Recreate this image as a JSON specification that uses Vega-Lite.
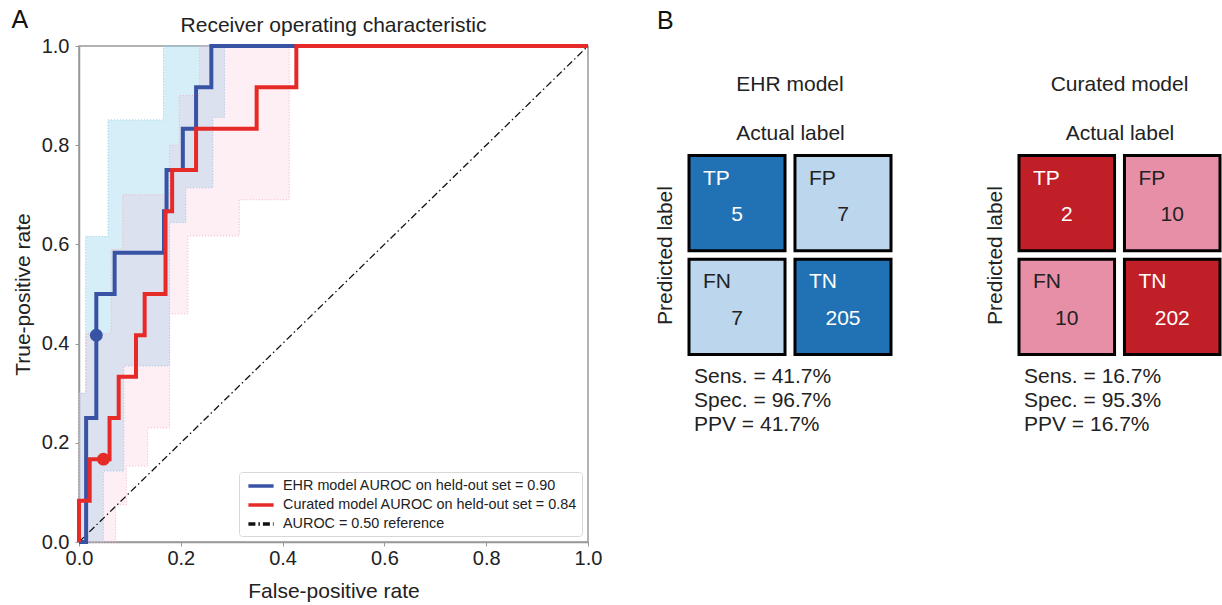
{
  "$schema": "https://vega.github.io/schema/vega-lite/v6.json",
  "padding": {"left": 11, "top": 8, "right": 0, "bottom": 0},
  "config": {
    "font": "Liberation Sans",
    "view": {"stroke": "#999", "strokeWidth": 1.5},
    "title": {"fontSize": 21, "fontWeight": "normal", "color": "#222", "font": "Liberation Sans"},
    "axis": {"labelFont": "Liberation Sans", "titleFont": "Liberation Sans", "labelColor": "#222", "titleColor": "#222", "titleFontWeight": "normal", "grid": false},
    "text": {"font": "Liberation Sans"},
    "legend": {"labelFont": "Liberation Sans"}
  },
  "datasets": {
    "roc": [
      {"s": "EHR model AUROC on held-out set = 0.90", "i": 1, "fpr": 0, "tpr": 0},
      {"s": "EHR model AUROC on held-out set = 0.90", "i": 2, "fpr": 0.014, "tpr": 0},
      {"s": "EHR model AUROC on held-out set = 0.90", "i": 3, "fpr": 0.014, "tpr": 0.25},
      {"s": "EHR model AUROC on held-out set = 0.90", "i": 4, "fpr": 0.034, "tpr": 0.25},
      {"s": "EHR model AUROC on held-out set = 0.90", "i": 5, "fpr": 0.034, "tpr": 0.5},
      {"s": "EHR model AUROC on held-out set = 0.90", "i": 6, "fpr": 0.07, "tpr": 0.5},
      {"s": "EHR model AUROC on held-out set = 0.90", "i": 7, "fpr": 0.07, "tpr": 0.583},
      {"s": "EHR model AUROC on held-out set = 0.90", "i": 8, "fpr": 0.167, "tpr": 0.583},
      {"s": "EHR model AUROC on held-out set = 0.90", "i": 9, "fpr": 0.167, "tpr": 0.667},
      {"s": "EHR model AUROC on held-out set = 0.90", "i": 10, "fpr": 0.172, "tpr": 0.667},
      {"s": "EHR model AUROC on held-out set = 0.90", "i": 11, "fpr": 0.172, "tpr": 0.75},
      {"s": "EHR model AUROC on held-out set = 0.90", "i": 12, "fpr": 0.204, "tpr": 0.75},
      {"s": "EHR model AUROC on held-out set = 0.90", "i": 13, "fpr": 0.204, "tpr": 0.833},
      {"s": "EHR model AUROC on held-out set = 0.90", "i": 14, "fpr": 0.23, "tpr": 0.833},
      {"s": "EHR model AUROC on held-out set = 0.90", "i": 15, "fpr": 0.23, "tpr": 0.917},
      {"s": "EHR model AUROC on held-out set = 0.90", "i": 16, "fpr": 0.26, "tpr": 0.917},
      {"s": "EHR model AUROC on held-out set = 0.90", "i": 17, "fpr": 0.26, "tpr": 1},
      {"s": "EHR model AUROC on held-out set = 0.90", "i": 18, "fpr": 1, "tpr": 1},
      {"s": "Curated model AUROC on held-out set = 0.84", "i": 1, "fpr": 0, "tpr": 0},
      {"s": "Curated model AUROC on held-out set = 0.84", "i": 2, "fpr": 0, "tpr": 0.083},
      {"s": "Curated model AUROC on held-out set = 0.84", "i": 3, "fpr": 0.021, "tpr": 0.083},
      {"s": "Curated model AUROC on held-out set = 0.84", "i": 4, "fpr": 0.021, "tpr": 0.167},
      {"s": "Curated model AUROC on held-out set = 0.84", "i": 5, "fpr": 0.06, "tpr": 0.167},
      {"s": "Curated model AUROC on held-out set = 0.84", "i": 6, "fpr": 0.06, "tpr": 0.25},
      {"s": "Curated model AUROC on held-out set = 0.84", "i": 7, "fpr": 0.078, "tpr": 0.25},
      {"s": "Curated model AUROC on held-out set = 0.84", "i": 8, "fpr": 0.078, "tpr": 0.333},
      {"s": "Curated model AUROC on held-out set = 0.84", "i": 9, "fpr": 0.112, "tpr": 0.333},
      {"s": "Curated model AUROC on held-out set = 0.84", "i": 10, "fpr": 0.112, "tpr": 0.417},
      {"s": "Curated model AUROC on held-out set = 0.84", "i": 11, "fpr": 0.129, "tpr": 0.417},
      {"s": "Curated model AUROC on held-out set = 0.84", "i": 12, "fpr": 0.129, "tpr": 0.5},
      {"s": "Curated model AUROC on held-out set = 0.84", "i": 13, "fpr": 0.17, "tpr": 0.5},
      {"s": "Curated model AUROC on held-out set = 0.84", "i": 14, "fpr": 0.17, "tpr": 0.667},
      {"s": "Curated model AUROC on held-out set = 0.84", "i": 15, "fpr": 0.183, "tpr": 0.667},
      {"s": "Curated model AUROC on held-out set = 0.84", "i": 16, "fpr": 0.183, "tpr": 0.75},
      {"s": "Curated model AUROC on held-out set = 0.84", "i": 17, "fpr": 0.23, "tpr": 0.75},
      {"s": "Curated model AUROC on held-out set = 0.84", "i": 18, "fpr": 0.23, "tpr": 0.833},
      {"s": "Curated model AUROC on held-out set = 0.84", "i": 19, "fpr": 0.349, "tpr": 0.833},
      {"s": "Curated model AUROC on held-out set = 0.84", "i": 20, "fpr": 0.349, "tpr": 0.917},
      {"s": "Curated model AUROC on held-out set = 0.84", "i": 21, "fpr": 0.427, "tpr": 0.917},
      {"s": "Curated model AUROC on held-out set = 0.84", "i": 22, "fpr": 0.427, "tpr": 1},
      {"s": "Curated model AUROC on held-out set = 0.84", "i": 23, "fpr": 1, "tpr": 1},
      {"s": "AUROC = 0.50 reference", "i": 1, "fpr": 0, "tpr": 0},
      {"s": "AUROC = 0.50 reference", "i": 2, "fpr": 1, "tpr": 1}
    ],
    "ops": [
      {"s": "EHR model AUROC on held-out set = 0.90", "fpr": 0.034, "tpr": 0.417},
      {"s": "Curated model AUROC on held-out set = 0.84", "fpr": 0.048, "tpr": 0.167}
    ],
    "bands": [
      {"m": "EHR", "fpr": 0, "tpr": 0, "hi": 0.3},
      {"m": "EHR", "fpr": 0.013, "tpr": 0, "hi": 0.616},
      {"m": "EHR", "fpr": 0.048, "tpr": 0.143, "hi": 0.616},
      {"m": "EHR", "fpr": 0.057, "tpr": 0.143, "hi": 0.851},
      {"m": "EHR", "fpr": 0.088, "tpr": 0.355, "hi": 0.851},
      {"m": "EHR", "fpr": 0.166, "tpr": 0.355, "hi": 1},
      {"m": "EHR", "fpr": 0.178, "tpr": 0.644, "hi": 1},
      {"m": "EHR", "fpr": 0.21, "tpr": 0.714, "hi": 1},
      {"m": "EHR", "fpr": 0.263, "tpr": 0.856, "hi": 1},
      {"m": "EHR", "fpr": 0.286, "tpr": 1, "hi": 1},
      {"m": "Curated", "fpr": 0, "tpr": 0, "hi": 0.3},
      {"m": "Curated", "fpr": 0.014, "tpr": 0, "hi": 0.42},
      {"m": "Curated", "fpr": 0.063, "tpr": 0, "hi": 0.59},
      {"m": "Curated", "fpr": 0.072, "tpr": 0.075, "hi": 0.59},
      {"m": "Curated", "fpr": 0.086, "tpr": 0.075, "hi": 0.7},
      {"m": "Curated", "fpr": 0.093, "tpr": 0.153, "hi": 0.7},
      {"m": "Curated", "fpr": 0.135, "tpr": 0.23, "hi": 0.7},
      {"m": "Curated", "fpr": 0.178, "tpr": 0.46, "hi": 0.8},
      {"m": "Curated", "fpr": 0.197, "tpr": 0.46, "hi": 0.9},
      {"m": "Curated", "fpr": 0.214, "tpr": 0.617, "hi": 0.9},
      {"m": "Curated", "fpr": 0.237, "tpr": 0.617, "hi": 1},
      {"m": "Curated", "fpr": 0.315, "tpr": 0.69, "hi": 1},
      {"m": "Curated", "fpr": 0.413, "tpr": 1, "hi": 1}
    ],
    "cm": [
      {"model": "EHR", "actual": "Positive", "predicted": "Positive", "label": "TP", "n": 5, "outcome": "correct"},
      {"model": "EHR", "actual": "Negative", "predicted": "Positive", "label": "FP", "n": 7, "outcome": "error"},
      {"model": "EHR", "actual": "Positive", "predicted": "Negative", "label": "FN", "n": 7, "outcome": "error"},
      {"model": "EHR", "actual": "Negative", "predicted": "Negative", "label": "TN", "n": 205, "outcome": "correct"},
      {"model": "Curated", "actual": "Positive", "predicted": "Positive", "label": "TP", "n": 2, "outcome": "correct"},
      {"model": "Curated", "actual": "Negative", "predicted": "Positive", "label": "FP", "n": 10, "outcome": "error"},
      {"model": "Curated", "actual": "Positive", "predicted": "Negative", "label": "FN", "n": 10, "outcome": "error"},
      {"model": "Curated", "actual": "Negative", "predicted": "Negative", "label": "TN", "n": 202, "outcome": "correct"}
    ],
    "stats": [
      {"model": "EHR", "line": 1, "text": "Sens. = 41.7%"},
      {"model": "EHR", "line": 2, "text": "Spec. = 96.7%"},
      {"model": "EHR", "line": 3, "text": "PPV = 41.7%"},
      {"model": "Curated", "line": 1, "text": "Sens. = 16.7%"},
      {"model": "Curated", "line": 2, "text": "Spec. = 95.3%"},
      {"model": "Curated", "line": 3, "text": "PPV = 16.7%"}
    ]
  },
  "hconcat": [
    {
      "title": {"text": "A", "anchor": "start", "fontSize": 25, "color": "#111", "offset": -19},
      "resolve": {"scale": {"color": "independent", "strokeDash": "independent"}},
      "vconcat": [
        {
          "width": 509,
          "height": 496,
          "title": {"text": "Receiver operating characteristic", "offset": 0},
          "layer": [
            {
              "data": {"name": "bands"},
              "transform": [{"filter": "datum.m === 'EHR'"}],
              "mark": {"type": "area", "interpolate": "step-after", "fill": "#87ceeb", "fillOpacity": 0.35, "stroke": "#8ecbea", "strokeDash": [1, 2], "strokeWidth": 1},
              "encoding": {
                "x": {"field": "fpr", "type": "quantitative", "scale": {"domain": [0, 1], "nice": false},
                  "axis": {"title": "False-positive rate", "values": [0, 0.2, 0.4, 0.6, 0.8, 1], "format": ".1f", "labelFlush": false, "labelFontSize": 20, "titleFontSize": 21, "tickSize": 4, "labelPadding": 2, "titlePadding": 12, "domainColor": "#999", "domainWidth": 1.5, "tickColor": "#999"}},
                "y": {"field": "tpr", "type": "quantitative", "scale": {"domain": [0, 1], "nice": false},
                  "axis": {"title": "True-positive rate", "values": [0, 0.2, 0.4, 0.6, 0.8, 1], "format": ".1f", "labelFlush": false, "labelFontSize": 20, "titleFontSize": 21, "tickSize": 4, "labelPadding": 6, "titlePadding": 8, "domainColor": "#999", "domainWidth": 1.5, "tickColor": "#999"}},
                "y2": {"field": "hi"}
              }
            },
            {
              "data": {"name": "bands"},
              "transform": [{"filter": "datum.m === 'Curated'"}],
              "mark": {"type": "area", "interpolate": "step-after", "fill": "#f7a8c0", "fillOpacity": 0.18, "stroke": "#f4b3c6", "strokeDash": [1, 2], "strokeWidth": 1},
              "encoding": {
                "x": {"field": "fpr", "type": "quantitative", "scale": {"domain": [0, 1], "nice": false}},
                "y": {"field": "tpr", "type": "quantitative", "scale": {"domain": [0, 1], "nice": false}},
                "y2": {"field": "hi"}
              }
            },
            {
              "data": {"name": "roc"},
              "transform": [{"filter": "datum.s === 'AUROC = 0.50 reference'"}],
              "mark": {"type": "line", "strokeWidth": 1.3},
              "encoding": {
                "x": {"field": "fpr", "type": "quantitative", "scale": {"domain": [0, 1], "nice": false}},
                "y": {"field": "tpr", "type": "quantitative", "scale": {"domain": [0, 1], "nice": false}},
                "order": {"field": "i", "type": "quantitative"},
                "color": {"field": "s", "type": "nominal",
                  "scale": {"domain": ["EHR model AUROC on held-out set = 0.90", "Curated model AUROC on held-out set = 0.84", "AUROC = 0.50 reference"], "range": ["#3953a4", "#e62a28", "#111111"]}},
                "strokeDash": {"field": "s", "type": "nominal",
                  "scale": {"domain": ["EHR model AUROC on held-out set = 0.90", "Curated model AUROC on held-out set = 0.84", "AUROC = 0.50 reference"], "range": [[1, 0], [1, 0], [7, 3, 1.5, 3]]}}
              }
            },
            {
              "data": {"name": "roc"},
              "transform": [{"filter": "datum.s !== 'AUROC = 0.50 reference'"}],
              "mark": {"type": "line", "strokeWidth": 4},
              "encoding": {
                "x": {"field": "fpr", "type": "quantitative", "scale": {"domain": [0, 1], "nice": false}},
                "y": {"field": "tpr", "type": "quantitative", "scale": {"domain": [0, 1], "nice": false}},
                "order": {"field": "i", "type": "quantitative"},
                "color": {"field": "s", "type": "nominal",
                  "scale": {"domain": ["EHR model AUROC on held-out set = 0.90", "Curated model AUROC on held-out set = 0.84", "AUROC = 0.50 reference"], "range": ["#3953a4", "#e62a28", "#111111"]},
                  "legend": {"title": null, "orient": "bottom-right", "offset": 6, "fillColor": "white", "strokeColor": "#d8d8d8", "cornerRadius": 3, "padding": 5, "labelFontSize": 14.4, "labelLimit": 0, "labelColor": "#222", "symbolType": "M-1.8,0H1.8", "symbolSize": 196, "symbolStrokeWidth": 3.5, "symbolOffset": 8, "rowPadding": 3, "labelOffset": 13}},
                "strokeDash": {"field": "s", "type": "nominal",
                  "scale": {"domain": ["EHR model AUROC on held-out set = 0.90", "Curated model AUROC on held-out set = 0.84", "AUROC = 0.50 reference"], "range": [[1, 0], [1, 0], [7, 3, 1.5, 3]]}}
              }
            },
            {
              "data": {"name": "ops"},
              "mark": {"type": "circle", "size": 165, "opacity": 1},
              "encoding": {
                "x": {"field": "fpr", "type": "quantitative", "scale": {"domain": [0, 1], "nice": false}},
                "y": {"field": "tpr", "type": "quantitative", "scale": {"domain": [0, 1], "nice": false}},
                "color": {"field": "s", "type": "nominal", "legend": null}
              }
            }
          ]
        }
      ]
    },
    {
      "title": {"text": "B", "anchor": "start", "fontSize": 25, "color": "#111", "offset": 12, "dx": 3},
      "spacing": 91,
      "resolve": {"scale": {"fill": "independent", "color": "independent", "x": "independent", "y": "independent"}},
      "hconcat": [
        {
          "bounds": "flush",
          "spacing": 10,
          "vconcat": [
            {
              "width": 202,
              "height": 308.5,
              "view": {"stroke": null},
              "title": {"text": "EHR model", "offset": -49},
              "data": {"name": "cm"},
              "transform": [{"filter": "datum.model === 'EHR'"}],
              "encoding": {
                "x": {"field": "actual", "type": "nominal", "sort": ["Positive", "Negative"], "scale": {"type": "band", "paddingInner": 0.094, "paddingOuter": 0},
                  "axis": {"orient": "top", "offset": -109.5, "title": "Actual label", "labels": false, "ticks": false, "domain": false, "titlePadding": 12, "titleFontSize": 21}},
                "y": {"field": "predicted", "type": "nominal", "sort": ["Positive", "Negative"], "scale": {"type": "band", "range": [109.5, 308.5], "paddingInner": 0.083, "paddingOuter": 0},
                  "axis": {"title": "Predicted label", "labels": false, "ticks": false, "domain": false, "titlePadding": 14, "titleFontSize": 21}}
              },
              "layer": [
                {
                  "mark": {"type": "rect", "stroke": "black", "strokeWidth": 3},
                  "encoding": {"fill": {"field": "outcome", "type": "nominal", "scale": {"domain": ["correct", "error"], "range": ["#2171b5", "#bcd6ee"]}, "legend": null}}
                },
                {
                  "mark": {"type": "text", "align": "left", "baseline": "middle", "dx": 14, "dy": 23, "fontSize": 21},
                  "encoding": {
                    "x": {"field": "actual", "type": "nominal", "sort": ["Positive", "Negative"], "bandPosition": 0},
                    "y": {"field": "predicted", "type": "nominal", "sort": ["Positive", "Negative"], "bandPosition": 0},
                    "text": {"field": "label"},
                    "color": {"field": "outcome", "type": "nominal", "scale": {"domain": ["correct", "error"], "range": ["#ffffff", "#222222"]}, "legend": null}
                  }
                },
                {
                  "mark": {"type": "text", "align": "center", "baseline": "middle", "dy": 12, "fontSize": 21},
                  "encoding": {
                    "text": {"field": "n"},
                    "color": {"field": "outcome", "type": "nominal", "scale": {"domain": ["correct", "error"], "range": ["#ffffff", "#222222"]}, "legend": null}
                  }
                }
              ]
            },
            {
              "width": 202,
              "height": 72,
              "view": {"stroke": null},
              "data": {"name": "stats"},
              "transform": [{"filter": "datum.model === 'EHR'"}],
              "mark": {"type": "text", "align": "left", "baseline": "middle", "dx": 5, "fontSize": 21, "color": "#222"},
              "encoding": {
                "x": {"datum": 0, "type": "quantitative", "scale": {"domain": [0, 1]}, "axis": null},
                "y": {"field": "line", "type": "ordinal", "axis": null},
                "text": {"field": "text"}
              }
            }
          ]
        },
        {
          "bounds": "flush",
          "spacing": 10,
          "vconcat": [
            {
              "width": 201,
              "height": 308.5,
              "view": {"stroke": null},
              "title": {"text": "Curated model", "offset": -49},
              "data": {"name": "cm"},
              "transform": [{"filter": "datum.model === 'Curated'"}],
              "encoding": {
                "x": {"field": "actual", "type": "nominal", "sort": ["Positive", "Negative"], "scale": {"type": "band", "paddingInner": 0.094, "paddingOuter": 0},
                  "axis": {"orient": "top", "offset": -109.5, "title": "Actual label", "labels": false, "ticks": false, "domain": false, "titlePadding": 12, "titleFontSize": 21}},
                "y": {"field": "predicted", "type": "nominal", "sort": ["Positive", "Negative"], "scale": {"type": "band", "range": [109.5, 308.5], "paddingInner": 0.083, "paddingOuter": 0},
                  "axis": {"title": "Predicted label", "labels": false, "ticks": false, "domain": false, "titlePadding": 14, "titleFontSize": 21}}
              },
              "layer": [
                {
                  "mark": {"type": "rect", "stroke": "black", "strokeWidth": 3},
                  "encoding": {"fill": {"field": "outcome", "type": "nominal", "scale": {"domain": ["correct", "error"], "range": ["#c11f27", "#e88fa8"]}, "legend": null}}
                },
                {
                  "mark": {"type": "text", "align": "left", "baseline": "middle", "dx": 14, "dy": 23, "fontSize": 21},
                  "encoding": {
                    "x": {"field": "actual", "type": "nominal", "sort": ["Positive", "Negative"], "bandPosition": 0},
                    "y": {"field": "predicted", "type": "nominal", "sort": ["Positive", "Negative"], "bandPosition": 0},
                    "text": {"field": "label"},
                    "color": {"field": "outcome", "type": "nominal", "scale": {"domain": ["correct", "error"], "range": ["#ffffff", "#222222"]}, "legend": null}
                  }
                },
                {
                  "mark": {"type": "text", "align": "center", "baseline": "middle", "dy": 12, "fontSize": 21},
                  "encoding": {
                    "text": {"field": "n"},
                    "color": {"field": "outcome", "type": "nominal", "scale": {"domain": ["correct", "error"], "range": ["#ffffff", "#222222"]}, "legend": null}
                  }
                }
              ]
            },
            {
              "width": 201,
              "height": 72,
              "view": {"stroke": null},
              "data": {"name": "stats"},
              "transform": [{"filter": "datum.model === 'Curated'"}],
              "mark": {"type": "text", "align": "left", "baseline": "middle", "dx": 5, "fontSize": 21, "color": "#222"},
              "encoding": {
                "x": {"datum": 0, "type": "quantitative", "scale": {"domain": [0, 1]}, "axis": null},
                "y": {"field": "line", "type": "ordinal", "axis": null},
                "text": {"field": "text"}
              }
            }
          ]
        }
      ]
    }
  ],
  "spacing": 51,
  "resolve": {"scale": {"color": "independent", "fill": "independent", "x": "independent", "y": "independent", "strokeDash": "independent"}}
}
